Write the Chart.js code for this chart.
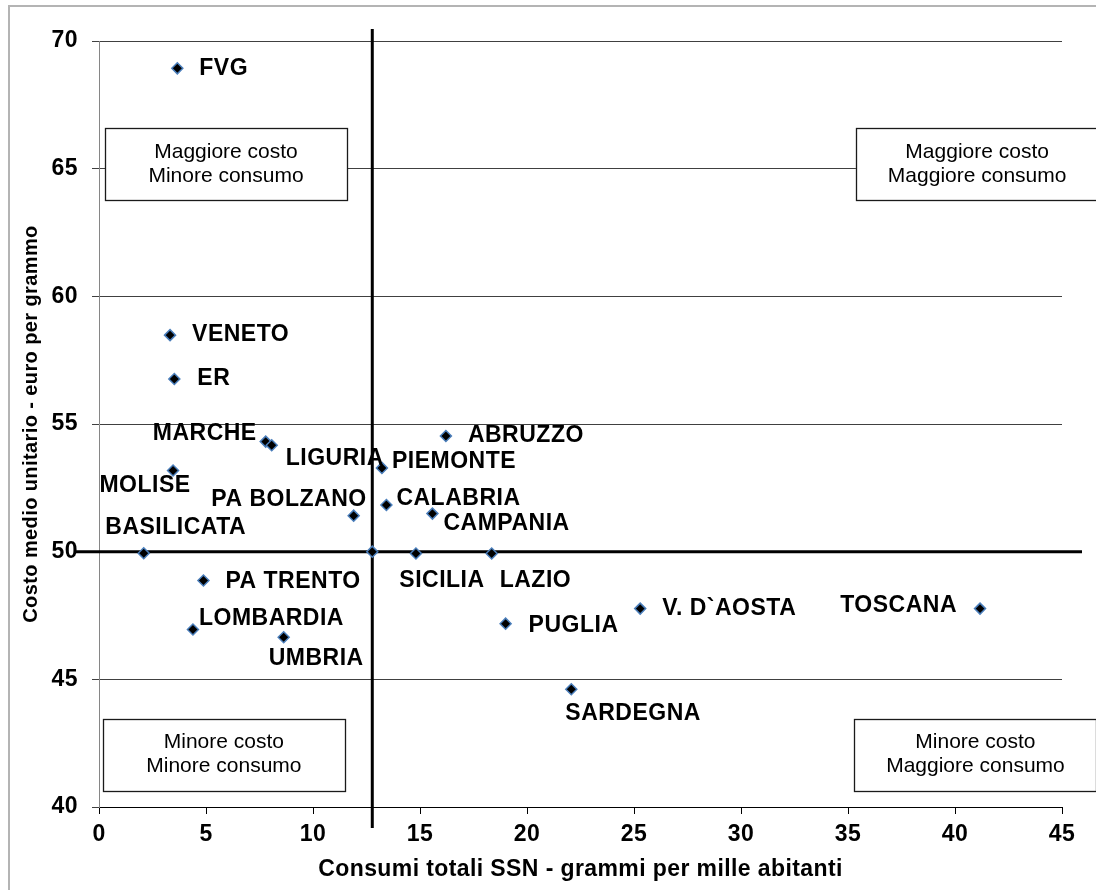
<!DOCTYPE html>
<html>
<head>
<meta charset="utf-8">
<title>Costo medio unitario e consumi totali SSN per regione</title>
<script src="https://cdn.jsdelivr.net/npm/chart.js@4.4.1/dist/chart.umd.min.js"></script>
<style>
  html, body { margin: 0; padding: 0; background: #ffffff; }
  #wrap { width: 1096px; height: 890px; }
</style>
</head>
<body>
<div id="wrap"><canvas id="chart" width="1096" height="890"></canvas></div>
<script>
// Regioni e valori: consumi totali SSN (grammi per mille abitanti) e costo medio unitario (euro per grammo)
const regions = ['FVG', 'VENETO', 'ER', 'MARCHE', 'LIGURIA', 'MOLISE', 'PA BOLZANO', 'BASILICATA',
  'PIEMONTE', 'CALABRIA', 'CAMPANIA', 'ABRUZZO', 'SICILIA', 'LAZIO', 'PA TRENTO', 'LOMBARDIA',
  'UMBRIA', 'PUGLIA', 'V. D`AOSTA', 'TOSCANA', 'SARDEGNA'];
const consumi = [3.66, 3.32, 3.52, 7.79, 8.07, 3.46, 11.90, 2.09,
  13.22, 13.43, 15.58, 16.21, 14.81, 18.35, 4.88, 4.39,
  8.63, 19.00, 25.29, 41.17, 22.07];
const costo = [68.93, 58.48, 56.76, 54.31, 54.17, 53.18, 51.41, 49.94,
  53.28, 51.83, 51.49, 54.53, 49.93, 49.93, 48.87, 46.95,
  46.65, 47.18, 47.77, 47.77, 44.61];

// Valore medio nazionale: incrocio dei quadranti
const italiaConsumo = 12.77;
const italiaCosto = 50.0;

const xTicks = [0, 5, 10, 15, 20, 25, 30, 35, 40, 45];
const yTicks = [40, 45, 50, 55, 60, 65, 70];

const xTitle = 'Consumi totali SSN - grammi per mille abitanti';
const yTitle = 'Costo medio unitario - euro per grammo';

const quadrantTexts = [
  ['Maggiore costo', 'Minore consumo'],
  ['Maggiore costo', 'Maggiore consumo'],
  ['Minore costo', 'Minore consumo'],
  ['Minore costo', 'Maggiore consumo']
];

// Riquadri dei quadranti, in unità degli assi
const quadrantBoxes = [
  { x0: 0.28, x1: 11.59, y0: 63.77, y1: 66.58 },
  { x0: 35.37, x1: 46.70, y0: 63.77, y1: 66.58 },
  { x0: 0.17, x1: 11.50, y0: 40.65, y1: 43.46 },
  { x0: 35.29, x1: 46.62, y0: 40.65, y1: 43.46 }
];

// Posizione delle etichette rispetto al punto: [allineamento, dx, dy] in pixel
const labelPlacement = {
  'FVG': ['left', 22, 0],
  'VENETO': ['left', 22, 0],
  'ER': ['left', 23, 0],
  'MARCHE': ['right', -9, -8],
  'LIGURIA': ['left', 14, 13],
  'MOLISE': ['center', -28, 15],
  'PA BOLZANO': ['right', 13, -16],
  'BASILICATA': ['center', 32, -26],
  'PIEMONTE': ['left', 10, -6],
  'CALABRIA': ['left', 10, -6],
  'CAMPANIA': ['left', 11, 10],
  'ABRUZZO': ['left', 22, 0],
  'SICILIA': ['center', 26, 27],
  'LAZIO': ['left', 8, 27],
  'PA TRENTO': ['left', 22, 1],
  'LOMBARDIA': ['left', 6, -11],
  'UMBRIA': ['left', -15, 21],
  'PUGLIA': ['left', 23, 2],
  'V. D`AOSTA': ['left', 22, 0],
  'TOSCANA': ['right', -23, -3],
  'SARDEGNA': ['left', -6, 24]
};

const FONT = '"Liberation Sans", Arial, sans-serif';
const tickFont = { family: FONT, size: 23, weight: 'bold' };
const xTitleFont = { family: FONT, size: 23, weight: 'bold' };
const yTitleFont = { family: FONT, size: 20, weight: 'bold' };
const SPACING = '0.4px';

const quadrantPlugin = {
  id: 'quadrants',
  beforeUpdate(chart) {
    chart.ctx.letterSpacing = SPACING;
  },
  beforeDraw(chart) {
    const ctx = chart.ctx;
    ctx.save();
    ctx.fillStyle = '#ffffff';
    ctx.fillRect(0, 0, chart.width, chart.height);
    ctx.strokeStyle = '#b4b4b4';
    ctx.lineWidth = 2;
    ctx.strokeRect(9, 6, chart.width + 20, chart.height + 20);
    ctx.restore();
    ctx.letterSpacing = SPACING;
  },
  beforeDatasetsDraw(chart) {
    const { ctx, chartArea: a } = chart;
    const x = chart.scales.x, y = chart.scales.y;
    ctx.save();
    // riquadri di testo
    ctx.letterSpacing = '0px';
    quadrantBoxes.forEach((b, i) => {
      const l = x.getPixelForValue(b.x0), r = x.getPixelForValue(b.x1);
      const t = y.getPixelForValue(b.y1), bt = y.getPixelForValue(b.y0);
      ctx.fillStyle = '#ffffff';
      ctx.fillRect(l, t, r - l, bt - t);
      ctx.strokeStyle = '#1a1a1a';
      ctx.lineWidth = 1.3;
      ctx.strokeRect(Math.round(l) + 0.5, Math.round(t) + 0.5, Math.round(r - l), Math.round(bt - t));
      ctx.fillStyle = '#000000';
      ctx.font = '21px ' + FONT;
      ctx.textAlign = 'center';
      ctx.textBaseline = 'middle';
      const cx = (l + r) / 2, cy = (t + bt) / 2;
      ctx.fillText(quadrantTexts[i][0], cx, cy - 12);
      ctx.fillText(quadrantTexts[i][1], cx, cy + 12);
    });
    // linee dei valori medi
    const px = x.getPixelForValue(italiaConsumo);
    const py = y.getPixelForValue(italiaCosto);
    ctx.strokeStyle = '#000000';
    ctx.lineWidth = 3;
    ctx.beginPath();
    ctx.moveTo(px, a.top - 12);
    ctx.lineTo(px, a.bottom + 21);
    ctx.moveTo(a.left - 24, py);
    ctx.lineTo(a.right + 20, py);
    ctx.stroke();
    ctx.restore();
  },
  afterDatasetsDraw(chart) {
    const ctx = chart.ctx;
    const meta = chart.getDatasetMeta(0);
    ctx.save();
    ctx.letterSpacing = '0.5px';
    ctx.font = 'bold 23px ' + FONT;
    ctx.fillStyle = '#000000';
    ctx.textBaseline = 'middle';
    meta.data.forEach((pt, i) => {
      const name = regions[i];
      const [align, dx, dy] = labelPlacement[name] || ['left', 20, 0];
      ctx.textAlign = align;
      ctx.fillText(name, pt.x + dx, pt.y + dy);
    });
    ctx.restore();
  }
};

const pointStyle = {
  pointStyle: 'rectRot',
  pointRadius: 5.5,
  pointHoverRadius: 5.5,
  pointBackgroundColor: '#000000',
  pointBorderColor: '#4a7ebb',
  pointBorderWidth: 1.5,
  showLine: false
};

new Chart(document.getElementById('chart'), {
  type: 'scatter',
  data: {
    datasets: [
      Object.assign({
        label: 'Regioni',
        data: regions.map((r, i) => ({ x: consumi[i], y: costo[i] }))
      }, pointStyle),
      Object.assign({
        label: 'Italia',
        data: [{ x: italiaConsumo, y: italiaCosto }]
      }, pointStyle)
    ]
  },
  options: {
    responsive: false,
    animation: false,
    devicePixelRatio: 1,
    layout: { padding: { top: 41, right: 34, left: 0, bottom: 0 } },
    plugins: {
      legend: { display: false },
      tooltip: { enabled: false }
    },
    scales: {
      x: {
        type: 'linear',
        min: 0,
        max: 45,
        afterBuildTicks: s => { s.ticks = xTicks.map(v => ({ value: v })); },
        afterFit: s => { s.height = 83; },
        border: { color: '#000000', width: 1 },
        grid: { drawOnChartArea: false, tickLength: 7, tickColor: '#000000' },
        ticks: { font: tickFont, color: '#000000', padding: 7, maxRotation: 0, autoSkip: false },
        title: { display: true, text: xTitle, font: xTitleFont, color: '#000000', padding: { top: 0, bottom: 7 } }
      },
      y: {
        type: 'linear',
        min: 40,
        max: 70,
        afterBuildTicks: s => { s.ticks = yTicks.map(v => ({ value: v })); },
        afterFit: s => { s.width = 99; },
        border: { color: '#868686', width: 1 },
        grid: {
          color: c => (c.tick && c.tick.value === 40) ? 'rgba(0,0,0,0)' : '#404040',
          tickColor: '#404040',
          tickLength: 7,
          lineWidth: 1
        },
        ticks: { font: tickFont, color: '#000000', padding: 14, autoSkip: false },
        title: { display: true, text: yTitle, font: yTitleFont, color: '#000000', padding: { top: 19.5, bottom: 0 } }
      }
    }
  },
  plugins: [quadrantPlugin]
});
</script>
</body>
</html>
